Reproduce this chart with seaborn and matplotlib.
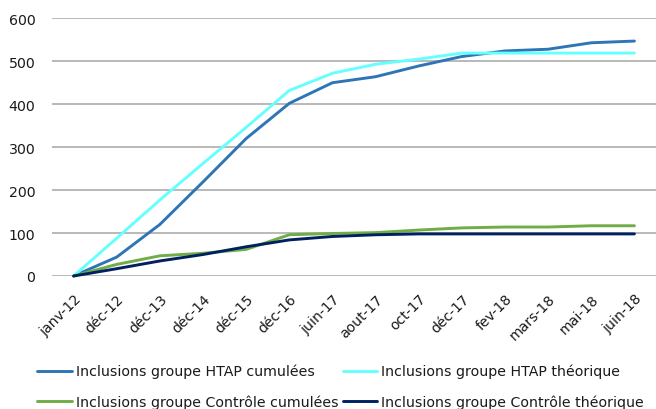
import matplotlib
matplotlib.use("Agg")
import matplotlib.pyplot as plt
import seaborn as sns
import pandas as pd

categories = ["janv-12", "déc-12", "déc-13", "déc-14", "déc-15", "déc-16", "juin-17",
              "aout-17", "oct-17", "déc-17", "fev-18", "mars-18", "mai-18", "juin-18"]
htap_cumul = [0, 44, 120, 219, 320, 402, 450, 464, 489, 511, 524, 528, 543, 547]
htap_theo = [0, 88, 177, 262, 346, 432, 472, 493, 505, 519, 519, 519, 519, 519]
ctrl_cumul = [0, 27, 47, 53, 62, 96, 99, 101, 107, 112, 114, 114, 117, 117]
ctrl_theo = [0, 17, 35, 50, 68, 84, 92, 96, 98, 98, 98, 98, 98, 98]

series_names = ["Inclusions groupe HTAP cumulées", "Inclusions groupe HTAP théorique",
                "Inclusions groupe Contrôle cumulées", "Inclusions groupe Contrôle théorique"]
colors = ["#2E75B6", "#66FFFF", "#70AD47", "#002060"]

rows = []
for name, vals in zip(series_names, [htap_cumul, htap_theo, ctrl_cumul, ctrl_theo]):
    for i, (c, v) in enumerate(zip(categories, vals)):
        rows.append({"idx": i, "cat": c, "value": v, "series": name})
df = pd.DataFrame(rows)

sns.set_theme(style="white")
plt.rcParams["font.family"] = ["DejaVu Sans"]

fig = plt.figure(figsize=(6.56, 4.10), dpi=100)
ax = fig.add_axes([52 / 656, 133 / 410, 604 / 656, (277 - 19.3) / 410])

sns.lineplot(data=df, x="idx", y="value", hue="series", hue_order=series_names,
             palette=colors, linewidth=2.1, ax=ax, legend=False, clip_on=False)

ax.set_xlim(-0.5, 13.5)
ax.set_ylim(0, 600)
ax.set_yticks([0, 100, 200, 300, 400, 500, 600])
ax.yaxis.grid(True, color="#A6A6A6", linewidth=1.1)
ax.set_axisbelow(True)
for s in ax.spines.values():
    s.set_visible(False)
ax.set_xlabel("")
ax.set_ylabel("")
ax.tick_params(axis="y", length=0, pad=12, labelsize=10.2, labelcolor="#1a1a1a")
ax.set_xticks(range(len(categories)))
ax.set_xticklabels(categories, rotation=45, ha="right", rotation_mode="anchor",
                   fontsize=10.1, color="#1a1a1a")
ax.tick_params(axis="x", length=0, pad=11)

handles = [plt.Line2D([], [], color=c, linewidth=2.1) for c in colors]
order = [0, 2, 1, 3]
fig.legend([handles[i] for i in order], [series_names[i] for i in order], ncol=2,
           loc="upper left", bbox_to_anchor=(37 / 656, 1 - 365 / 410),
           frameon=False, fontsize=10.2, borderpad=0, borderaxespad=0,
           handlelength=2.45, handletextpad=0.28, columnspacing=0.3,
           labelspacing=1.1, labelcolor="#1a1a1a")

fig.savefig("out.png", dpi=100)
